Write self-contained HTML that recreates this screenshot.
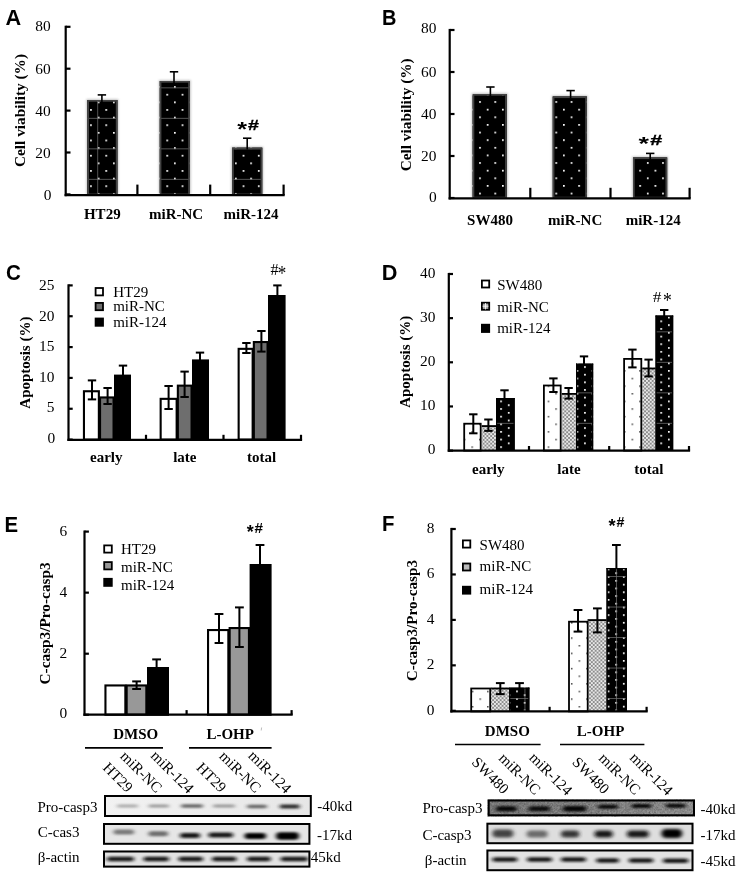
<!DOCTYPE html>
<html lang="en"><head><meta charset="utf-8"><title>Figure</title>
<style>html,body{margin:0;padding:0;background:#fff}body{width:739px;height:875px;overflow:hidden}svg text{fill:#000}</style></head>
<body>
<svg width="739" height="875" viewBox="0 0 739 875" style="display:block">
<defs>
<pattern id="pA" patternUnits="userSpaceOnUse" x="97.75" y="101.45" width="15.25" height="15.25">
<rect width="15.25" height="15.25" fill="#000"/>
<rect x="0" y="0" width="1.7" height="1.7" fill="#fff"/>
<rect x="7.625" y="7.625" width="1.7" height="1.7" fill="#fff"/>
</pattern>
<pattern id="lA" patternUnits="userSpaceOnUse" x="97.35" y="117.85" width="30.5" height="30.5">
<rect x="0" y="0" width="30.5" height="0.7" fill="#777"/>
</pattern>
<pattern id="pB" patternUnits="userSpaceOnUse" x="479.15" y="101.15" width="15.25" height="15.25">
<rect width="15.25" height="15.25" fill="#000"/>
<rect x="0" y="0" width="1.7" height="1.7" fill="#fff"/>
<rect x="7.625" y="7.625" width="1.7" height="1.7" fill="#fff"/>
</pattern>
<pattern id="pDw" patternUnits="userSpaceOnUse" x="631.55" y="377.75" width="15.25" height="15.25">
<rect width="15.25" height="15.25" fill="#fff"/>
<rect x="0" y="0" width="1.5" height="1.5" fill="#444"/>
<rect x="7.625" y="7.625" width="1.5" height="1.5" fill="#444"/>
</pattern>
<pattern id="pDb" patternUnits="userSpaceOnUse" x="660.35" y="320.45" width="15.25" height="7.625">
<rect width="15.25" height="7.625" fill="#000"/>
<rect x="0" y="0" width="1.7" height="1.7" fill="#fff"/>
<rect x="7.625" y="3.8125" width="1.7" height="1.7" fill="#fff"/>
</pattern>
<pattern id="lD" patternUnits="userSpaceOnUse" x="-0.35" y="331.35" width="30.5" height="30.5">
<rect x="0" y="0" width="30.5" height="0.7" fill="#777"/>
</pattern>
<pattern id="pFw" patternUnits="userSpaceOnUse" x="570.95" y="637.35" width="15.25" height="15.25">
<rect width="15.25" height="15.25" fill="#fff"/>
<rect x="0" y="0" width="1.5" height="1.5" fill="#444"/>
<rect x="7.625" y="7.625" width="1.5" height="1.5" fill="#444"/>
</pattern>
<pattern id="pFb" patternUnits="userSpaceOnUse" x="607.65" y="614.25" width="15.25" height="7.625">
<rect width="15.25" height="7.625" fill="#000"/>
<rect x="0" y="0" width="1.7" height="1.7" fill="#fff"/>
<rect x="7.625" y="3.8125" width="1.7" height="1.7" fill="#fff"/>
</pattern>
<pattern id="lF" patternUnits="userSpaceOnUse" x="615.95" y="637.05" width="30.5" height="30.5">
<rect x="0" y="0" width="0.7" height="30.5" fill="#777"/>
<rect x="0" y="0" width="30.5" height="0.7" fill="#777"/>
</pattern>
<pattern id="pG" patternUnits="userSpaceOnUse" width="3.8" height="3.8"><rect width="3.8" height="3.8" fill="#8c8c8c"/><rect x="0.1" y="0.1" width="1.7" height="1.7" fill="#fff"/><rect x="2.0" y="2.0" width="1.7" height="1.7" fill="#fff"/></pattern>
<filter id="b1" x="-20%" y="-100%" width="140%" height="300%"><feGaussianBlur stdDeviation="1.9 1.1"/></filter>
<filter id="b2" x="-20%" y="-100%" width="140%" height="300%"><feGaussianBlur stdDeviation="2.2 1.5"/></filter>
<filter id="sh" x="-20%" y="-20%" width="140%" height="140%"><feGaussianBlur stdDeviation="1.2"/></filter>
<linearGradient id="gE1" x1="0" x2="1"><stop offset="0" stop-color="#f2f2f2"/><stop offset="1" stop-color="#e6e6e6"/></linearGradient>
<linearGradient id="gF1" x1="0" x2="1"><stop offset="0" stop-color="#838383"/><stop offset="0.5" stop-color="#8c8c8c"/><stop offset="1" stop-color="#9c9c9c"/></linearGradient>
<filter id="nz" x="0" y="0" width="100%" height="100%"><feTurbulence type="fractalNoise" baseFrequency="0.55" numOctaves="2" seed="7"/><feColorMatrix type="matrix" values="0 0 0 0 0  0 0 0 0 0  0 0 0 0 0  0.9 0.9 0.9 0 -1.05"/></filter>
</defs>
<rect width="739" height="875" fill="#fff"/>
<text x="5.40" y="25.00" font-family='"Liberation Sans", sans-serif' font-size="21.7" font-weight="bold" text-anchor="start" >A</text>
<line x1="65.70" y1="25.70" x2="65.70" y2="196.20" stroke="#000" stroke-width="2.2" />
<line x1="65.70" y1="26.80" x2="70.50" y2="26.80" stroke="#000" stroke-width="2.2" />
<text x="50.60" y="31.40" font-family='"Liberation Serif", serif' font-size="15.4" font-weight="normal" text-anchor="end" >80</text>
<line x1="65.70" y1="68.70" x2="70.50" y2="68.70" stroke="#000" stroke-width="2.2" />
<text x="50.60" y="73.80" font-family='"Liberation Serif", serif' font-size="15.4" font-weight="normal" text-anchor="end" >60</text>
<line x1="65.70" y1="110.60" x2="70.50" y2="110.60" stroke="#000" stroke-width="2.2" />
<text x="50.60" y="115.70" font-family='"Liberation Serif", serif' font-size="15.4" font-weight="normal" text-anchor="end" >40</text>
<line x1="65.70" y1="152.50" x2="70.50" y2="152.50" stroke="#000" stroke-width="2.2" />
<text x="50.60" y="157.60" font-family='"Liberation Serif", serif' font-size="15.4" font-weight="normal" text-anchor="end" >20</text>
<line x1="65.70" y1="194.40" x2="70.50" y2="194.40" stroke="#000" stroke-width="2.2" />
<text x="51.40" y="200.30" font-family='"Liberation Serif", serif' font-size="15.4" font-weight="normal" text-anchor="end" >0</text>
<rect x="86.50" y="99.20" width="31.80" height="95.20" fill="#888" filter="url(#sh)" opacity="0.55"/>
<rect x="87.30" y="100.00" width="30.20" height="94.40" fill="url(#pA)" />
<rect x="87.30" y="100.00" width="30.20" height="94.40" fill="url(#lA)" />
<rect x="88.15" y="100.85" width="28.50" height="93.55" fill="none" stroke="#444" stroke-width="1.7" />
<line x1="101.90" y1="94.90" x2="101.90" y2="102.00" stroke="#000" stroke-width="1.6" />
<line x1="97.70" y1="94.90" x2="106.10" y2="94.90" stroke="#000" stroke-width="1.6" />
<rect x="158.90" y="80.20" width="31.80" height="114.20" fill="#888" filter="url(#sh)" opacity="0.55"/>
<rect x="159.70" y="81.00" width="30.20" height="113.40" fill="url(#pA)" />
<rect x="159.70" y="81.00" width="30.20" height="113.40" fill="url(#lA)" />
<rect x="160.55" y="81.85" width="28.50" height="112.55" fill="none" stroke="#444" stroke-width="1.7" />
<line x1="174.00" y1="71.80" x2="174.00" y2="83.00" stroke="#000" stroke-width="1.6" />
<line x1="169.80" y1="71.80" x2="178.20" y2="71.80" stroke="#000" stroke-width="1.6" />
<rect x="231.30" y="146.80" width="31.80" height="47.60" fill="#888" filter="url(#sh)" opacity="0.55"/>
<rect x="232.10" y="147.60" width="30.20" height="46.80" fill="url(#pA)" />
<rect x="232.10" y="147.60" width="30.20" height="46.80" fill="url(#lA)" />
<rect x="232.95" y="148.45" width="28.50" height="45.95" fill="none" stroke="#444" stroke-width="1.7" />
<line x1="247.20" y1="138.20" x2="247.20" y2="149.60" stroke="#000" stroke-width="1.6" />
<line x1="243.00" y1="138.20" x2="251.40" y2="138.20" stroke="#000" stroke-width="1.6" />
<line x1="97.70" y1="101.00" x2="97.70" y2="193.50" stroke="#777" stroke-width="0.7" />
<line x1="64.60" y1="195.10" x2="284.70" y2="195.10" stroke="#000" stroke-width="2.2" />
<line x1="137.40" y1="195.10" x2="137.40" y2="184.60" stroke="#000" stroke-width="2.2" />
<line x1="210.20" y1="195.10" x2="210.20" y2="184.60" stroke="#000" stroke-width="2.2" />
<line x1="283.60" y1="195.10" x2="283.60" y2="184.60" stroke="#000" stroke-width="2.2" />
<text x="102.30" y="218.60" font-family='"Liberation Serif", serif' font-size="15" font-weight="bold" text-anchor="middle" >HT29</text>
<text x="176.10" y="218.60" font-family='"Liberation Serif", serif' font-size="15" font-weight="bold" text-anchor="middle" >miR-NC</text>
<text x="251.00" y="218.60" font-family='"Liberation Serif", serif' font-size="15" font-weight="bold" text-anchor="middle" >miR-124</text>
<text transform="translate(24.60,110.50) rotate(-90)" font-family='"Liberation Serif", serif' font-size="15.3" font-weight="bold" text-anchor="middle">Cell viability (%)</text>
<text transform="translate(237.20,135.79) scale(1.240,1)" font-family='"Liberation Sans", sans-serif' font-size="20.27" font-weight="bold">*</text>
<text transform="translate(247.91,130.30) scale(1.314,1)" font-family='"Liberation Sans", sans-serif' font-size="14.93" font-weight="bold" stroke="#000" stroke-width="0.3">#</text>
<text transform="translate(381.9,25) scale(0.92,1)" font-family='"Liberation Sans", sans-serif' font-size="21.7" font-weight="bold">B</text>
<line x1="449.70" y1="28.90" x2="449.70" y2="199.40" stroke="#000" stroke-width="2.2" />
<line x1="449.70" y1="30.00" x2="454.50" y2="30.00" stroke="#000" stroke-width="2.2" />
<text x="436.40" y="33.30" font-family='"Liberation Serif", serif' font-size="15.4" font-weight="normal" text-anchor="end" >80</text>
<line x1="449.70" y1="72.00" x2="454.50" y2="72.00" stroke="#000" stroke-width="2.2" />
<text x="436.40" y="77.10" font-family='"Liberation Serif", serif' font-size="15.4" font-weight="normal" text-anchor="end" >60</text>
<line x1="449.70" y1="114.00" x2="454.50" y2="114.00" stroke="#000" stroke-width="2.2" />
<text x="436.40" y="119.10" font-family='"Liberation Serif", serif' font-size="15.4" font-weight="normal" text-anchor="end" >40</text>
<line x1="449.70" y1="156.00" x2="454.50" y2="156.00" stroke="#000" stroke-width="2.2" />
<text x="436.40" y="161.10" font-family='"Liberation Serif", serif' font-size="15.4" font-weight="normal" text-anchor="end" >20</text>
<line x1="449.70" y1="198.00" x2="454.50" y2="198.00" stroke="#000" stroke-width="2.2" />
<text x="436.80" y="202.00" font-family='"Liberation Serif", serif' font-size="15.4" font-weight="normal" text-anchor="end" >0</text>
<rect x="471.80" y="93.20" width="35.80" height="104.40" fill="#888" filter="url(#sh)" opacity="0.55"/>
<rect x="472.60" y="94.00" width="34.20" height="103.60" fill="url(#pB)" />
<rect x="473.45" y="94.85" width="32.50" height="102.75" fill="none" stroke="#444" stroke-width="1.7" />
<line x1="490.40" y1="87.00" x2="490.40" y2="96.00" stroke="#000" stroke-width="1.6" />
<line x1="486.20" y1="87.00" x2="494.60" y2="87.00" stroke="#000" stroke-width="1.6" />
<rect x="551.90" y="95.60" width="35.80" height="102.00" fill="#888" filter="url(#sh)" opacity="0.55"/>
<rect x="552.70" y="96.40" width="34.20" height="101.20" fill="url(#pB)" />
<rect x="553.55" y="97.25" width="32.50" height="100.35" fill="none" stroke="#444" stroke-width="1.7" />
<line x1="570.60" y1="90.60" x2="570.60" y2="98.40" stroke="#000" stroke-width="1.6" />
<line x1="566.40" y1="90.60" x2="574.80" y2="90.60" stroke="#000" stroke-width="1.6" />
<rect x="632.20" y="156.60" width="35.80" height="41.00" fill="#888" filter="url(#sh)" opacity="0.55"/>
<rect x="633.00" y="157.40" width="34.20" height="40.20" fill="url(#pB)" />
<rect x="633.85" y="158.25" width="32.50" height="39.35" fill="none" stroke="#444" stroke-width="1.7" />
<line x1="650.20" y1="153.40" x2="650.20" y2="159.40" stroke="#000" stroke-width="1.6" />
<line x1="646.00" y1="153.40" x2="654.40" y2="153.40" stroke="#000" stroke-width="1.6" />
<line x1="448.60" y1="198.30" x2="690.70" y2="198.30" stroke="#000" stroke-width="2.2" />
<line x1="530.30" y1="198.30" x2="530.30" y2="187.80" stroke="#000" stroke-width="2.2" />
<line x1="610.50" y1="198.30" x2="610.50" y2="187.80" stroke="#000" stroke-width="2.2" />
<line x1="689.60" y1="198.30" x2="689.60" y2="187.80" stroke="#000" stroke-width="2.2" />
<text x="490.00" y="225.20" font-family='"Liberation Serif", serif' font-size="15" font-weight="bold" text-anchor="middle" >SW480</text>
<text x="575.20" y="225.20" font-family='"Liberation Serif", serif' font-size="15" font-weight="bold" text-anchor="middle" >miR-NC</text>
<text x="653.20" y="225.20" font-family='"Liberation Serif", serif' font-size="15" font-weight="bold" text-anchor="middle" >miR-124</text>
<text transform="translate(411.10,114.80) rotate(-90)" font-family='"Liberation Serif", serif' font-size="15.3" font-weight="bold" text-anchor="middle">Cell viability (%)</text>
<text transform="translate(638.50,150.44) scale(1.403,1)" font-family='"Liberation Sans", sans-serif' font-size="19.19" font-weight="bold">*</text>
<text transform="translate(650.27,145.30) scale(1.516,1)" font-family='"Liberation Sans", sans-serif' font-size="14.20" font-weight="bold" stroke="#000" stroke-width="0.3">#</text>
<text transform="translate(5.9,280) scale(0.95,1)" font-family='"Liberation Sans", sans-serif' font-size="21.7" font-weight="bold">C</text>
<line x1="68.50" y1="284.30" x2="68.50" y2="440.90" stroke="#000" stroke-width="2.2" />
<line x1="68.50" y1="285.40" x2="72.70" y2="285.40" stroke="#000" stroke-width="2.2" />
<text x="54.40" y="290.00" font-family='"Liberation Serif", serif' font-size="15.4" font-weight="normal" text-anchor="end" >25</text>
<line x1="68.50" y1="316.24" x2="72.70" y2="316.24" stroke="#000" stroke-width="2.2" />
<text x="54.40" y="320.54" font-family='"Liberation Serif", serif' font-size="15.4" font-weight="normal" text-anchor="end" >20</text>
<line x1="68.50" y1="347.08" x2="72.70" y2="347.08" stroke="#000" stroke-width="2.2" />
<text x="54.40" y="351.08" font-family='"Liberation Serif", serif' font-size="15.4" font-weight="normal" text-anchor="end" >15</text>
<line x1="68.50" y1="377.92" x2="72.70" y2="377.92" stroke="#000" stroke-width="2.2" />
<text x="54.40" y="381.62" font-family='"Liberation Serif", serif' font-size="15.4" font-weight="normal" text-anchor="end" >10</text>
<line x1="68.50" y1="408.76" x2="72.70" y2="408.76" stroke="#000" stroke-width="2.2" />
<text x="54.40" y="412.16" font-family='"Liberation Serif", serif' font-size="15.4" font-weight="normal" text-anchor="end" >5</text>
<line x1="68.50" y1="439.60" x2="72.70" y2="439.60" stroke="#000" stroke-width="2.2" />
<text x="55.10" y="442.70" font-family='"Liberation Serif", serif' font-size="15.4" font-weight="normal" text-anchor="end" >0</text>
<rect x="83.95" y="391.25" width="14.90" height="48.35" fill="#fff" stroke="#000" stroke-width="2.1" />
<rect x="100.05" y="397.45" width="13.50" height="42.15" fill="#6e6e6e" stroke="#000" stroke-width="2.1" />
<rect x="115.05" y="375.65" width="14.90" height="63.95" fill="#000" stroke="#000" stroke-width="2.1" />
<line x1="92.00" y1="380.40" x2="92.00" y2="399.40" stroke="#000" stroke-width="2.0" />
<line x1="87.80" y1="380.40" x2="96.20" y2="380.40" stroke="#000" stroke-width="2.0" />
<line x1="87.80" y1="399.40" x2="96.20" y2="399.40" stroke="#000" stroke-width="2.0" />
<line x1="107.60" y1="388.00" x2="107.60" y2="404.00" stroke="#000" stroke-width="2.0" />
<line x1="103.40" y1="388.00" x2="111.80" y2="388.00" stroke="#000" stroke-width="2.0" />
<line x1="103.40" y1="404.00" x2="111.80" y2="404.00" stroke="#000" stroke-width="2.0" />
<line x1="123.00" y1="365.60" x2="123.00" y2="375.60" stroke="#000" stroke-width="2.0" />
<line x1="118.80" y1="365.60" x2="127.20" y2="365.60" stroke="#000" stroke-width="2.0" />
<rect x="160.65" y="398.85" width="16.00" height="40.75" fill="#fff" stroke="#000" stroke-width="2.1" />
<rect x="177.85" y="385.65" width="13.70" height="53.95" fill="#6e6e6e" stroke="#000" stroke-width="2.1" />
<rect x="193.05" y="360.45" width="14.90" height="79.15" fill="#000" stroke="#000" stroke-width="2.1" />
<line x1="168.60" y1="386.00" x2="168.60" y2="409.00" stroke="#000" stroke-width="2.0" />
<line x1="164.40" y1="386.00" x2="172.80" y2="386.00" stroke="#000" stroke-width="2.0" />
<line x1="164.40" y1="409.00" x2="172.80" y2="409.00" stroke="#000" stroke-width="2.0" />
<line x1="184.60" y1="371.60" x2="184.60" y2="397.00" stroke="#000" stroke-width="2.0" />
<line x1="180.40" y1="371.60" x2="188.80" y2="371.60" stroke="#000" stroke-width="2.0" />
<line x1="180.40" y1="397.00" x2="188.80" y2="397.00" stroke="#000" stroke-width="2.0" />
<line x1="200.00" y1="352.60" x2="200.00" y2="360.40" stroke="#000" stroke-width="2.0" />
<line x1="195.80" y1="352.60" x2="204.20" y2="352.60" stroke="#000" stroke-width="2.0" />
<rect x="238.65" y="348.85" width="14.00" height="90.75" fill="#fff" stroke="#000" stroke-width="2.1" />
<rect x="253.85" y="342.05" width="13.70" height="97.55" fill="#6e6e6e" stroke="#000" stroke-width="2.1" />
<rect x="269.05" y="296.05" width="15.50" height="143.55" fill="#000" stroke="#000" stroke-width="2.1" />
<line x1="246.40" y1="343.00" x2="246.40" y2="353.00" stroke="#000" stroke-width="2.0" />
<line x1="242.20" y1="343.00" x2="250.60" y2="343.00" stroke="#000" stroke-width="2.0" />
<line x1="242.20" y1="353.00" x2="250.60" y2="353.00" stroke="#000" stroke-width="2.0" />
<line x1="261.40" y1="331.00" x2="261.40" y2="351.60" stroke="#000" stroke-width="2.0" />
<line x1="257.20" y1="331.00" x2="265.60" y2="331.00" stroke="#000" stroke-width="2.0" />
<line x1="257.20" y1="351.60" x2="265.60" y2="351.60" stroke="#000" stroke-width="2.0" />
<line x1="277.40" y1="285.40" x2="277.40" y2="296.00" stroke="#000" stroke-width="2.0" />
<line x1="273.20" y1="285.40" x2="281.60" y2="285.40" stroke="#000" stroke-width="2.0" />
<line x1="67.40" y1="439.80" x2="302.10" y2="439.80" stroke="#000" stroke-width="2.2" />
<line x1="146.00" y1="439.80" x2="146.00" y2="434.80" stroke="#000" stroke-width="2.2" />
<line x1="223.50" y1="439.80" x2="223.50" y2="434.80" stroke="#000" stroke-width="2.2" />
<line x1="301.00" y1="439.80" x2="301.00" y2="434.80" stroke="#000" stroke-width="2.2" />
<text x="106.30" y="461.80" font-family='"Liberation Serif", serif' font-size="15" font-weight="bold" text-anchor="middle" >early</text>
<text x="184.80" y="461.80" font-family='"Liberation Serif", serif' font-size="15" font-weight="bold" text-anchor="middle" >late</text>
<text x="261.60" y="461.80" font-family='"Liberation Serif", serif' font-size="15" font-weight="bold" text-anchor="middle" >total</text>
<text transform="translate(30.00,362.60) rotate(-90)" font-family='"Liberation Serif", serif' font-size="15" font-weight="bold" text-anchor="middle">Apoptosis (%)</text>
<text transform="translate(270.58,274.74) scale(1.011,1)" font-family='"Liberation Serif", serif' font-size="15.91" font-weight="normal">#</text>
<text transform="translate(277.85,280.10) scale(0.806,1)" font-family='"Liberation Serif", serif' font-size="21.08" font-weight="normal">*</text>
<rect x="95.60" y="288.00" width="7.40" height="7.40" fill="#fff" stroke="#000" stroke-width="1.8" />
<rect x="95.60" y="302.90" width="7.40" height="7.30" fill="#6e6e6e" stroke="#000" stroke-width="1.8" />
<rect x="95.60" y="318.50" width="7.40" height="7.30" fill="#000" stroke="#000" stroke-width="1.8" />
<text x="113.20" y="297.20" font-family='"Liberation Serif", serif' font-size="15" font-weight="normal" text-anchor="start" >HT29</text>
<text x="113.20" y="311.30" font-family='"Liberation Serif", serif' font-size="15" font-weight="normal" text-anchor="start" >miR-NC</text>
<text x="113.20" y="326.50" font-family='"Liberation Serif", serif' font-size="15" font-weight="normal" text-anchor="start" >miR-124</text>
<text x="381.80" y="280.40" font-family='"Liberation Sans", sans-serif' font-size="21.7" font-weight="bold" text-anchor="start" >D</text>
<line x1="448.80" y1="272.90" x2="448.80" y2="451.70" stroke="#000" stroke-width="2.2" />
<line x1="448.80" y1="274.00" x2="453.00" y2="274.00" stroke="#000" stroke-width="2.2" />
<text x="435.40" y="277.60" font-family='"Liberation Serif", serif' font-size="15.4" font-weight="normal" text-anchor="end" >40</text>
<line x1="448.80" y1="318.15" x2="453.00" y2="318.15" stroke="#000" stroke-width="2.2" />
<text x="435.40" y="321.75" font-family='"Liberation Serif", serif' font-size="15.4" font-weight="normal" text-anchor="end" >30</text>
<line x1="448.80" y1="362.30" x2="453.00" y2="362.30" stroke="#000" stroke-width="2.2" />
<text x="435.40" y="365.90" font-family='"Liberation Serif", serif' font-size="15.4" font-weight="normal" text-anchor="end" >20</text>
<line x1="448.80" y1="406.45" x2="453.00" y2="406.45" stroke="#000" stroke-width="2.2" />
<text x="435.40" y="410.05" font-family='"Liberation Serif", serif' font-size="15.4" font-weight="normal" text-anchor="end" >10</text>
<line x1="448.80" y1="450.60" x2="453.00" y2="450.60" stroke="#000" stroke-width="2.2" />
<text x="435.40" y="454.20" font-family='"Liberation Serif", serif' font-size="15.4" font-weight="normal" text-anchor="end" >0</text>
<rect x="481.40" y="425.20" width="14.60" height="25.40" fill="url(#pG)" />
<line x1="481.40" y1="426.10" x2="496.00" y2="426.10" stroke="#000" stroke-width="1.8" />
<rect x="463.30" y="422.80" width="18.30" height="27.80" fill="url(#pDw)" />
<rect x="464.20" y="423.70" width="16.50" height="26.90" fill="none" stroke="#000" stroke-width="1.8" />
<rect x="496.00" y="398.00" width="18.70" height="52.60" fill="url(#pDb)" />
<rect x="496.00" y="398.00" width="18.70" height="52.60" fill="url(#lD)" />
<line x1="496.60" y1="398.00" x2="496.60" y2="450.60" stroke="#000" stroke-width="1.2" />
<line x1="514.10" y1="398.00" x2="514.10" y2="450.60" stroke="#000" stroke-width="1.2" />
<line x1="496.00" y1="398.60" x2="514.70" y2="398.60" stroke="#000" stroke-width="1.2" />
<line x1="473.30" y1="414.30" x2="473.30" y2="433.30" stroke="#000" stroke-width="2.0" />
<line x1="469.10" y1="414.30" x2="477.50" y2="414.30" stroke="#000" stroke-width="2.0" />
<line x1="469.10" y1="433.30" x2="477.50" y2="433.30" stroke="#000" stroke-width="2.0" />
<line x1="488.40" y1="419.50" x2="488.40" y2="430.90" stroke="#000" stroke-width="2.0" />
<line x1="484.20" y1="419.50" x2="492.60" y2="419.50" stroke="#000" stroke-width="2.0" />
<line x1="484.20" y1="430.90" x2="492.60" y2="430.90" stroke="#000" stroke-width="2.0" />
<line x1="504.50" y1="390.30" x2="504.50" y2="399.00" stroke="#000" stroke-width="2.0" />
<line x1="500.30" y1="390.30" x2="508.70" y2="390.30" stroke="#000" stroke-width="2.0" />
<rect x="561.40" y="393.00" width="14.60" height="57.60" fill="url(#pG)" />
<line x1="561.40" y1="393.90" x2="576.00" y2="393.90" stroke="#000" stroke-width="1.8" />
<rect x="543.00" y="384.60" width="18.60" height="66.00" fill="url(#pDw)" />
<rect x="543.90" y="385.50" width="16.80" height="65.10" fill="none" stroke="#000" stroke-width="1.8" />
<rect x="576.00" y="363.60" width="17.20" height="87.00" fill="url(#pDb)" />
<rect x="576.00" y="363.60" width="17.20" height="87.00" fill="url(#lD)" />
<line x1="576.60" y1="363.60" x2="576.60" y2="450.60" stroke="#000" stroke-width="1.2" />
<line x1="592.60" y1="363.60" x2="592.60" y2="450.60" stroke="#000" stroke-width="1.2" />
<line x1="576.00" y1="364.20" x2="593.20" y2="364.20" stroke="#000" stroke-width="1.2" />
<line x1="553.40" y1="378.40" x2="553.40" y2="392.00" stroke="#000" stroke-width="2.0" />
<line x1="549.20" y1="378.40" x2="557.60" y2="378.40" stroke="#000" stroke-width="2.0" />
<line x1="549.20" y1="392.00" x2="557.60" y2="392.00" stroke="#000" stroke-width="2.0" />
<line x1="568.60" y1="388.00" x2="568.60" y2="398.60" stroke="#000" stroke-width="2.0" />
<line x1="564.40" y1="388.00" x2="572.80" y2="388.00" stroke="#000" stroke-width="2.0" />
<line x1="564.40" y1="398.60" x2="572.80" y2="398.60" stroke="#000" stroke-width="2.0" />
<line x1="584.00" y1="356.40" x2="584.00" y2="364.60" stroke="#000" stroke-width="2.0" />
<line x1="579.80" y1="356.40" x2="588.20" y2="356.40" stroke="#000" stroke-width="2.0" />
<rect x="642.00" y="367.60" width="13.60" height="83.00" fill="url(#pG)" />
<line x1="642.00" y1="368.50" x2="655.60" y2="368.50" stroke="#000" stroke-width="1.8" />
<rect x="623.20" y="358.00" width="19.00" height="92.60" fill="url(#pDw)" />
<rect x="624.10" y="358.90" width="17.20" height="91.70" fill="none" stroke="#000" stroke-width="1.8" />
<rect x="655.50" y="315.50" width="17.70" height="135.10" fill="url(#pDb)" />
<rect x="655.50" y="315.50" width="17.70" height="135.10" fill="url(#lD)" />
<line x1="656.10" y1="315.50" x2="656.10" y2="450.60" stroke="#000" stroke-width="1.2" />
<line x1="672.60" y1="315.50" x2="672.60" y2="450.60" stroke="#000" stroke-width="1.2" />
<line x1="655.50" y1="316.10" x2="673.20" y2="316.10" stroke="#000" stroke-width="1.2" />
<line x1="632.40" y1="349.60" x2="632.40" y2="367.40" stroke="#000" stroke-width="2.0" />
<line x1="628.20" y1="349.60" x2="636.60" y2="349.60" stroke="#000" stroke-width="2.0" />
<line x1="628.20" y1="367.40" x2="636.60" y2="367.40" stroke="#000" stroke-width="2.0" />
<line x1="648.60" y1="359.60" x2="648.60" y2="376.40" stroke="#000" stroke-width="2.0" />
<line x1="644.40" y1="359.60" x2="652.80" y2="359.60" stroke="#000" stroke-width="2.0" />
<line x1="644.40" y1="376.40" x2="652.80" y2="376.40" stroke="#000" stroke-width="2.0" />
<line x1="664.20" y1="310.00" x2="664.20" y2="316.50" stroke="#000" stroke-width="2.0" />
<line x1="660.00" y1="310.00" x2="668.40" y2="310.00" stroke="#000" stroke-width="2.0" />
<line x1="447.70" y1="450.60" x2="690.10" y2="450.60" stroke="#000" stroke-width="2.2" />
<line x1="529.00" y1="450.60" x2="529.00" y2="446.00" stroke="#000" stroke-width="2.2" />
<line x1="609.20" y1="450.60" x2="609.20" y2="446.00" stroke="#000" stroke-width="2.2" />
<line x1="689.00" y1="450.60" x2="689.00" y2="446.00" stroke="#000" stroke-width="2.2" />
<text x="488.30" y="473.80" font-family='"Liberation Serif", serif' font-size="15" font-weight="bold" text-anchor="middle" >early</text>
<text x="569.00" y="473.80" font-family='"Liberation Serif", serif' font-size="15" font-weight="bold" text-anchor="middle" >late</text>
<text x="648.80" y="473.80" font-family='"Liberation Serif", serif' font-size="15" font-weight="bold" text-anchor="middle" >total</text>
<text transform="translate(409.80,361.80) rotate(-90)" font-family='"Liberation Serif", serif' font-size="15" font-weight="bold" text-anchor="middle">Apoptosis (%)</text>
<text transform="translate(652.65,301.85) scale(1.171,1)" font-family='"Liberation Serif", serif' font-size="14.85" font-weight="normal">#</text>
<text transform="translate(663.12,307.00) scale(0.875,1)" font-family='"Liberation Serif", serif' font-size="20.00" font-weight="normal">*</text>
<rect x="481.90" y="280.50" width="7.30" height="7.00" fill="#fff" stroke="#000" stroke-width="1.8" />
<rect x="481.90" y="302.70" width="7.30" height="7.10" fill="#aaa" stroke="#000" stroke-width="1.8" />
<line x1="485.50" y1="303.00" x2="485.50" y2="309.50" stroke="#fff" stroke-width="0.8" />
<line x1="482.50" y1="306.20" x2="488.50" y2="306.20" stroke="#fff" stroke-width="0.8" />
<rect x="481.00" y="323.80" width="9.10" height="9.10" fill="#000" />
<text x="497.20" y="289.70" font-family='"Liberation Serif", serif' font-size="15" font-weight="normal" text-anchor="start" >SW480</text>
<text x="497.20" y="311.60" font-family='"Liberation Serif", serif' font-size="15" font-weight="normal" text-anchor="start" >miR-NC</text>
<text x="497.20" y="332.90" font-family='"Liberation Serif", serif' font-size="15" font-weight="normal" text-anchor="start" >miR-124</text>
<text transform="translate(4.5,531.6) scale(0.94,1)" font-family='"Liberation Sans", sans-serif' font-size="21.7" font-weight="bold">E</text>
<line x1="84.50" y1="530.50" x2="84.50" y2="715.90" stroke="#000" stroke-width="2.2" />
<line x1="84.50" y1="531.60" x2="88.90" y2="531.60" stroke="#000" stroke-width="2.2" />
<text x="67.20" y="535.70" font-family='"Liberation Serif", serif' font-size="15.4" font-weight="normal" text-anchor="end" >6</text>
<line x1="84.50" y1="592.65" x2="88.90" y2="592.65" stroke="#000" stroke-width="2.2" />
<text x="67.20" y="596.75" font-family='"Liberation Serif", serif' font-size="15.4" font-weight="normal" text-anchor="end" >4</text>
<line x1="84.50" y1="653.70" x2="88.90" y2="653.70" stroke="#000" stroke-width="2.2" />
<text x="67.20" y="657.80" font-family='"Liberation Serif", serif' font-size="15.4" font-weight="normal" text-anchor="end" >2</text>
<line x1="84.50" y1="714.75" x2="88.90" y2="714.75" stroke="#000" stroke-width="2.2" />
<text x="67.20" y="718.15" font-family='"Liberation Serif", serif' font-size="15.4" font-weight="normal" text-anchor="end" >0</text>
<rect x="105.45" y="685.45" width="19.90" height="29.25" fill="#fff" stroke="#000" stroke-width="2.1" />
<rect x="126.65" y="685.45" width="19.70" height="29.25" fill="#989898" stroke="#000" stroke-width="2.1" />
<rect x="148.05" y="668.05" width="19.90" height="46.65" fill="#000" stroke="#000" stroke-width="2.1" />
<line x1="136.60" y1="681.40" x2="136.60" y2="689.00" stroke="#000" stroke-width="2.0" />
<line x1="132.20" y1="681.40" x2="141.00" y2="681.40" stroke="#000" stroke-width="2.0" />
<line x1="132.20" y1="689.00" x2="141.00" y2="689.00" stroke="#000" stroke-width="2.0" />
<line x1="156.60" y1="659.40" x2="156.60" y2="668.00" stroke="#000" stroke-width="2.0" />
<line x1="152.20" y1="659.40" x2="161.00" y2="659.40" stroke="#000" stroke-width="2.0" />
<rect x="208.05" y="630.05" width="20.30" height="84.65" fill="#fff" stroke="#000" stroke-width="2.1" />
<rect x="229.65" y="628.05" width="19.30" height="86.65" fill="#989898" stroke="#000" stroke-width="2.1" />
<rect x="250.65" y="565.05" width="19.90" height="149.65" fill="#000" stroke="#000" stroke-width="2.1" />
<line x1="219.00" y1="614.00" x2="219.00" y2="643.00" stroke="#000" stroke-width="2.0" />
<line x1="214.60" y1="614.00" x2="223.40" y2="614.00" stroke="#000" stroke-width="2.0" />
<line x1="214.60" y1="643.00" x2="223.40" y2="643.00" stroke="#000" stroke-width="2.0" />
<line x1="239.40" y1="607.40" x2="239.40" y2="647.00" stroke="#000" stroke-width="2.0" />
<line x1="235.00" y1="607.40" x2="243.80" y2="607.40" stroke="#000" stroke-width="2.0" />
<line x1="235.00" y1="647.00" x2="243.80" y2="647.00" stroke="#000" stroke-width="2.0" />
<line x1="260.00" y1="545.00" x2="260.00" y2="565.00" stroke="#000" stroke-width="2.0" />
<line x1="255.60" y1="545.00" x2="264.40" y2="545.00" stroke="#000" stroke-width="2.0" />
<line x1="83.40" y1="714.70" x2="292.70" y2="714.70" stroke="#000" stroke-width="2.2" />
<line x1="186.60" y1="714.70" x2="186.60" y2="710.10" stroke="#000" stroke-width="2.2" />
<line x1="291.60" y1="714.70" x2="291.60" y2="710.10" stroke="#000" stroke-width="2.2" />
<text transform="translate(49.80,623.40) rotate(-90)" font-family='"Liberation Serif", serif' font-size="15.3" font-weight="bold" text-anchor="middle">C-casp3/Pro-casp3</text>
<text transform="translate(246.80,537.78) scale(0.977,1)" font-family='"Liberation Sans", sans-serif' font-size="18.38" font-weight="bold">*</text>
<text transform="translate(254.60,533.10) scale(1.048,1)" font-family='"Liberation Sans", sans-serif' font-size="14.49" font-weight="bold">#</text>
<rect x="104.20" y="545.40" width="7.60" height="7.20" fill="#fff" stroke="#000" stroke-width="1.8" />
<rect x="104.20" y="562.10" width="7.60" height="7.30" fill="#989898" stroke="#000" stroke-width="1.8" />
<rect x="104.20" y="578.80" width="7.60" height="7.10" fill="#000" stroke="#000" stroke-width="1.8" />
<text x="121.00" y="553.90" font-family='"Liberation Serif", serif' font-size="15" font-weight="normal" text-anchor="start" >HT29</text>
<text x="121.00" y="571.50" font-family='"Liberation Serif", serif' font-size="15" font-weight="normal" text-anchor="start" >miR-NC</text>
<text x="121.00" y="590.40" font-family='"Liberation Serif", serif' font-size="15" font-weight="normal" text-anchor="start" >miR-124</text>
<text x="113.20" y="738.90" font-family='"Liberation Serif", serif' font-size="15" font-weight="bold" text-anchor="start" >DMSO</text>
<text x="206.40" y="738.90" font-family='"Liberation Serif", serif' font-size="15" font-weight="bold" text-anchor="start" >L-OHP</text>
<line x1="85.00" y1="747.80" x2="163.00" y2="747.80" stroke="#000" stroke-width="1.7" />
<line x1="189.00" y1="747.80" x2="271.60" y2="747.80" stroke="#000" stroke-width="1.7" />
<line x1="261.60" y1="727.50" x2="261.20" y2="730.50" stroke="#aaa" stroke-width="0.8" />
<text transform="translate(102.00,768.50) rotate(45)" font-family='"Liberation Serif", serif' font-size="15">HT29</text>
<text transform="translate(119.50,757.00) rotate(45)" font-family='"Liberation Serif", serif' font-size="15">miR-NC</text>
<text transform="translate(150.00,756.50) rotate(45)" font-family='"Liberation Serif", serif' font-size="15">miR-124</text>
<text transform="translate(195.50,768.50) rotate(45)" font-family='"Liberation Serif", serif' font-size="15">HT29</text>
<text transform="translate(218.50,757.00) rotate(45)" font-family='"Liberation Serif", serif' font-size="15">miR-NC</text>
<text transform="translate(247.50,756.50) rotate(45)" font-family='"Liberation Serif", serif' font-size="15">miR-124</text>
<text x="37.40" y="812.00" font-family='"Liberation Serif", serif' font-size="15" font-weight="normal" text-anchor="start" >Pro-casp3</text>
<text x="37.80" y="837.00" font-family='"Liberation Serif", serif' font-size="15" font-weight="normal" text-anchor="start" >C-cas3</text>
<text x="37.80" y="862.40" font-family='"Liberation Serif", serif' font-size="15" font-weight="normal" text-anchor="start" >β-actin</text>
<text x="317.20" y="811.00" font-family='"Liberation Serif", serif' font-size="15" font-weight="normal" text-anchor="start" >-40kd</text>
<text x="317.00" y="840.00" font-family='"Liberation Serif", serif' font-size="15" font-weight="normal" text-anchor="start" >-17kd</text>
<text x="310.80" y="862.40" font-family='"Liberation Serif", serif' font-size="15" font-weight="normal" text-anchor="start" >45kd</text>
<clipPath id="cE1"><rect x="104" y="795" width="207.8" height="22"/></clipPath>
<rect x="104.00" y="795.00" width="207.80" height="22.00" fill="url(#gE1)" />
<g clip-path="url(#cE1)">
<rect x="117.00" y="804.50" width="21.00" height="3.00" rx="1.50" fill="#555" opacity="0.45" filter="url(#b1)"/>
<rect x="148.50" y="804.50" width="20.50" height="3.00" rx="1.50" fill="#555" opacity="0.55" filter="url(#b1)"/>
<rect x="181.00" y="804.25" width="22.00" height="3.50" rx="1.75" fill="#444" opacity="0.8" filter="url(#b1)"/>
<rect x="213.00" y="804.50" width="22.00" height="3.00" rx="1.50" fill="#555" opacity="0.55" filter="url(#b1)"/>
<rect x="247.00" y="804.75" width="20.00" height="3.50" rx="1.75" fill="#444" opacity="0.8" filter="url(#b1)"/>
<rect x="279.70" y="804.50" width="20.00" height="4.00" rx="2.00" fill="#222" opacity="0.95" filter="url(#b1)"/>
</g>
<rect x="105.00" y="796.00" width="205.80" height="20.00" fill="none" stroke="#000" stroke-width="2.0" />
<clipPath id="cE2"><rect x="103" y="823" width="207.39999999999998" height="21.799999999999955"/></clipPath>
<rect x="103.00" y="823.00" width="207.40" height="21.80" fill="#e6e6e6" />
<g clip-path="url(#cE2)">
<rect x="113.50" y="829.50" width="20.50" height="5.00" rx="2.50" fill="#555" opacity="0.75" filter="url(#b1)"/>
<rect x="148.50" y="831.20" width="19.50" height="5.00" rx="2.50" fill="#444" opacity="0.75" filter="url(#b1)"/>
<rect x="180.00" y="833.00" width="20.00" height="5.00" rx="2.50" fill="#111" opacity="0.95" filter="url(#b1)"/>
<rect x="208.50" y="832.50" width="24.50" height="5.00" rx="2.50" fill="#111" opacity="0.95" filter="url(#b1)"/>
<rect x="244.50" y="833.00" width="21.50" height="6.00" rx="3.00" fill="#000" opacity="1" filter="url(#b1)"/>
<rect x="276.00" y="832.25" width="23.00" height="7.50" rx="3.75" fill="#000" opacity="1" filter="url(#b1)"/>
</g>
<rect x="104.00" y="824.00" width="205.40" height="19.80" fill="none" stroke="#000" stroke-width="2.0" />
<clipPath id="cE3"><rect x="103" y="850.5" width="207.39999999999998" height="17.100000000000023"/></clipPath>
<rect x="103.00" y="850.50" width="207.40" height="17.10" fill="#e2e2e2" />
<g clip-path="url(#cE3)">
<rect x="107.00" y="856.75" width="27.00" height="4.50" rx="2.25" fill="#111" opacity="0.95" filter="url(#b1)"/>
<rect x="143.50" y="856.75" width="25.50" height="4.50" rx="2.25" fill="#111" opacity="0.95" filter="url(#b1)"/>
<rect x="178.50" y="856.75" width="24.50" height="4.50" rx="2.25" fill="#111" opacity="0.95" filter="url(#b1)"/>
<rect x="212.00" y="856.75" width="24.50" height="4.50" rx="2.25" fill="#111" opacity="0.95" filter="url(#b1)"/>
<rect x="247.00" y="856.75" width="23.70" height="4.50" rx="2.25" fill="#111" opacity="0.95" filter="url(#b1)"/>
<rect x="280.60" y="856.75" width="27.40" height="4.50" rx="2.25" fill="#111" opacity="0.95" filter="url(#b1)"/>
</g>
<rect x="104.00" y="851.50" width="205.40" height="15.10" fill="none" stroke="#000" stroke-width="2.0" />
<text transform="translate(381.9,531) scale(0.94,1)" font-family='"Liberation Sans", sans-serif' font-size="21.7" font-weight="bold">F</text>
<line x1="451.40" y1="527.90" x2="451.40" y2="712.50" stroke="#000" stroke-width="2.2" />
<line x1="451.40" y1="529.00" x2="455.80" y2="529.00" stroke="#000" stroke-width="2.2" />
<text x="434.40" y="532.70" font-family='"Liberation Serif", serif' font-size="15.4" font-weight="normal" text-anchor="end" >8</text>
<line x1="451.40" y1="574.45" x2="455.80" y2="574.45" stroke="#000" stroke-width="2.2" />
<text x="434.40" y="578.15" font-family='"Liberation Serif", serif' font-size="15.4" font-weight="normal" text-anchor="end" >6</text>
<line x1="451.40" y1="619.90" x2="455.80" y2="619.90" stroke="#000" stroke-width="2.2" />
<text x="434.40" y="623.60" font-family='"Liberation Serif", serif' font-size="15.4" font-weight="normal" text-anchor="end" >4</text>
<line x1="451.40" y1="665.35" x2="455.80" y2="665.35" stroke="#000" stroke-width="2.2" />
<text x="434.40" y="669.05" font-family='"Liberation Serif", serif' font-size="15.4" font-weight="normal" text-anchor="end" >2</text>
<line x1="451.40" y1="710.80" x2="455.80" y2="710.80" stroke="#000" stroke-width="2.2" />
<text x="434.40" y="714.50" font-family='"Liberation Serif", serif' font-size="15.4" font-weight="normal" text-anchor="end" >0</text>
<rect x="490.90" y="687.60" width="18.20" height="23.80" fill="url(#pG)" />
<line x1="490.90" y1="688.50" x2="509.10" y2="688.50" stroke="#000" stroke-width="1.8" />
<rect x="470.30" y="687.60" width="20.80" height="23.80" fill="url(#pFw)" />
<rect x="471.20" y="688.50" width="19.00" height="22.90" fill="none" stroke="#000" stroke-width="1.8" />
<rect x="509.10" y="687.60" width="20.30" height="23.80" fill="url(#pFb)" />
<rect x="509.10" y="687.60" width="20.30" height="23.80" fill="url(#lF)" />
<line x1="509.70" y1="687.60" x2="509.70" y2="711.40" stroke="#000" stroke-width="1.2" />
<line x1="528.80" y1="687.60" x2="528.80" y2="711.40" stroke="#000" stroke-width="1.2" />
<line x1="509.10" y1="688.20" x2="529.40" y2="688.20" stroke="#000" stroke-width="1.2" />
<line x1="500.30" y1="683.10" x2="500.30" y2="694.10" stroke="#000" stroke-width="2.0" />
<line x1="495.90" y1="683.10" x2="504.70" y2="683.10" stroke="#000" stroke-width="2.0" />
<line x1="495.90" y1="694.10" x2="504.70" y2="694.10" stroke="#000" stroke-width="2.0" />
<line x1="519.50" y1="683.10" x2="519.50" y2="688.60" stroke="#000" stroke-width="2.0" />
<line x1="515.10" y1="683.10" x2="523.90" y2="683.10" stroke="#000" stroke-width="2.0" />
<rect x="587.60" y="619.20" width="18.90" height="92.20" fill="url(#pG)" />
<line x1="587.60" y1="620.10" x2="606.50" y2="620.10" stroke="#000" stroke-width="1.8" />
<rect x="568.10" y="620.80" width="20.50" height="90.60" fill="url(#pFw)" />
<rect x="569.00" y="621.70" width="18.70" height="89.70" fill="none" stroke="#000" stroke-width="1.8" />
<rect x="606.50" y="568.00" width="20.50" height="143.40" fill="url(#pFb)" />
<rect x="606.50" y="568.00" width="20.50" height="143.40" fill="url(#lF)" />
<line x1="607.10" y1="568.00" x2="607.10" y2="711.40" stroke="#000" stroke-width="1.2" />
<line x1="626.40" y1="568.00" x2="626.40" y2="711.40" stroke="#000" stroke-width="1.2" />
<line x1="606.50" y1="568.60" x2="627.00" y2="568.60" stroke="#000" stroke-width="1.2" />
<line x1="578.00" y1="610.00" x2="578.00" y2="631.60" stroke="#000" stroke-width="2.0" />
<line x1="573.60" y1="610.00" x2="582.40" y2="610.00" stroke="#000" stroke-width="2.0" />
<line x1="573.60" y1="631.60" x2="582.40" y2="631.60" stroke="#000" stroke-width="2.0" />
<line x1="597.40" y1="608.40" x2="597.40" y2="632.40" stroke="#000" stroke-width="2.0" />
<line x1="593.00" y1="608.40" x2="601.80" y2="608.40" stroke="#000" stroke-width="2.0" />
<line x1="593.00" y1="632.40" x2="601.80" y2="632.40" stroke="#000" stroke-width="2.0" />
<line x1="616.40" y1="545.00" x2="616.40" y2="569.00" stroke="#000" stroke-width="2.0" />
<line x1="612.00" y1="545.00" x2="620.80" y2="545.00" stroke="#000" stroke-width="2.0" />
<line x1="450.30" y1="711.40" x2="647.70" y2="711.40" stroke="#000" stroke-width="2.2" />
<line x1="549.60" y1="711.40" x2="549.60" y2="706.80" stroke="#000" stroke-width="2.2" />
<line x1="646.60" y1="711.40" x2="646.60" y2="706.80" stroke="#000" stroke-width="2.2" />
<text transform="translate(416.80,620.60) rotate(-90)" font-family='"Liberation Serif", serif' font-size="15.2" font-weight="bold" text-anchor="middle">C-casp3/Pro-casp3</text>
<text transform="translate(608.60,531.99) scale(1.005,1)" font-family='"Liberation Sans", sans-serif' font-size="18.11" font-weight="bold">*</text>
<text transform="translate(616.62,527.30) scale(1.034,1)" font-family='"Liberation Sans", sans-serif' font-size="13.77" font-weight="bold">#</text>
<rect x="462.90" y="540.40" width="7.40" height="7.20" fill="#fff" stroke="#000" stroke-width="1.8" />
<rect x="462.90" y="563.50" width="7.40" height="7.00" fill="#bbb" stroke="#000" stroke-width="1.8" />
<rect x="462.00" y="585.80" width="9.20" height="8.80" fill="#000" />
<text x="479.60" y="549.70" font-family='"Liberation Serif", serif' font-size="15" font-weight="normal" text-anchor="start" >SW480</text>
<text x="479.60" y="571.20" font-family='"Liberation Serif", serif' font-size="15" font-weight="normal" text-anchor="start" >miR-NC</text>
<text x="479.60" y="594.00" font-family='"Liberation Serif", serif' font-size="15" font-weight="normal" text-anchor="start" >miR-124</text>
<text x="484.80" y="735.80" font-family='"Liberation Serif", serif' font-size="15" font-weight="bold" text-anchor="start" >DMSO</text>
<text x="576.80" y="735.80" font-family='"Liberation Serif", serif' font-size="15" font-weight="bold" text-anchor="start" >L-OHP</text>
<line x1="455.00" y1="744.50" x2="540.60" y2="744.50" stroke="#000" stroke-width="1.7" />
<line x1="560.00" y1="744.50" x2="644.40" y2="744.50" stroke="#000" stroke-width="1.7" />
<text transform="translate(471.00,763.00) rotate(45)" font-family='"Liberation Serif", serif' font-size="15">SW480</text>
<text transform="translate(498.00,759.00) rotate(45)" font-family='"Liberation Serif", serif' font-size="15">miR-NC</text>
<text transform="translate(528.50,758.50) rotate(45)" font-family='"Liberation Serif", serif' font-size="15">miR-124</text>
<text transform="translate(571.50,763.00) rotate(45)" font-family='"Liberation Serif", serif' font-size="15">SW480</text>
<text transform="translate(598.00,759.00) rotate(45)" font-family='"Liberation Serif", serif' font-size="15">miR-NC</text>
<text transform="translate(629.00,758.50) rotate(45)" font-family='"Liberation Serif", serif' font-size="15">miR-124</text>
<text x="422.40" y="812.60" font-family='"Liberation Serif", serif' font-size="15" font-weight="normal" text-anchor="start" >Pro-casp3</text>
<text x="422.40" y="840.00" font-family='"Liberation Serif", serif' font-size="15" font-weight="normal" text-anchor="start" >C-casp3</text>
<text x="424.80" y="865.00" font-family='"Liberation Serif", serif' font-size="15" font-weight="normal" text-anchor="start" >β-actin</text>
<text x="700.60" y="813.80" font-family='"Liberation Serif", serif' font-size="15" font-weight="normal" text-anchor="start" >-40kd</text>
<text x="700.60" y="840.00" font-family='"Liberation Serif", serif' font-size="15" font-weight="normal" text-anchor="start" >-17kd</text>
<text x="700.60" y="866.00" font-family='"Liberation Serif", serif' font-size="15" font-weight="normal" text-anchor="start" >-45kd</text>
<clipPath id="cF1"><rect x="487.7" y="799.5" width="207.3" height="16.799999999999955"/></clipPath>
<rect x="487.70" y="799.50" width="207.30" height="16.80" fill="url(#gF1)" />
<rect x="487.70" y="799.50" width="207.30" height="16.80" fill="#000" filter="url(#nz)" opacity="0.35"/>
<g clip-path="url(#cF1)">
<rect x="496.00" y="806.30" width="20.80" height="5.00" rx="2.50" fill="#000" opacity="0.95" filter="url(#b1)"/>
<rect x="528.50" y="806.30" width="21.50" height="5.00" rx="2.50" fill="#000" opacity="0.9" filter="url(#b1)"/>
<rect x="562.80" y="806.05" width="23.50" height="5.50" rx="2.75" fill="#000" opacity="0.95" filter="url(#b1)"/>
<rect x="598.00" y="804.70" width="20.00" height="4.00" rx="2.00" fill="#000" opacity="0.95" filter="url(#b1)"/>
<rect x="631.50" y="804.00" width="19.90" height="4.00" rx="2.00" fill="#000" opacity="0.95" filter="url(#b1)"/>
<rect x="665.80" y="803.80" width="19.90" height="4.00" rx="2.00" fill="#000" opacity="0.95" filter="url(#b1)"/>
</g>
<rect x="488.70" y="800.50" width="205.30" height="14.80" fill="none" stroke="#000" stroke-width="2.0" />
<clipPath id="cF2"><rect x="486.4" y="822.7" width="207.10000000000002" height="21.5"/></clipPath>
<rect x="486.40" y="822.70" width="207.10" height="21.50" fill="#dedede" />
<g clip-path="url(#cF2)">
<rect x="492.40" y="829.50" width="20.90" height="8.00" rx="4.00" fill="#333" opacity="0.9" filter="url(#b2)"/>
<rect x="526.70" y="830.50" width="20.90" height="7.00" rx="3.50" fill="#555" opacity="0.85" filter="url(#b2)"/>
<rect x="561.00" y="830.50" width="18.30" height="7.00" rx="3.50" fill="#222" opacity="0.9" filter="url(#b2)"/>
<rect x="594.50" y="830.50" width="18.20" height="7.00" rx="3.50" fill="#111" opacity="0.95" filter="url(#b2)"/>
<rect x="627.00" y="830.50" width="21.80" height="7.00" rx="3.50" fill="#111" opacity="0.95" filter="url(#b2)"/>
<rect x="661.40" y="829.00" width="20.80" height="9.00" rx="4.50" fill="#000" opacity="1" filter="url(#b2)"/>
</g>
<rect x="487.40" y="823.70" width="205.10" height="19.50" fill="none" stroke="#000" stroke-width="2.0" />
<clipPath id="cF3"><rect x="486.4" y="849.5" width="207.10000000000002" height="21.700000000000045"/></clipPath>
<rect x="486.40" y="849.50" width="207.10" height="21.70" fill="#e2e2e2" />
<g clip-path="url(#cF3)">
<rect x="492.40" y="857.25" width="24.90" height="4.50" rx="2.25" fill="#111" opacity="0.95" filter="url(#b1)"/>
<rect x="527.00" y="857.25" width="25.00" height="4.50" rx="2.25" fill="#111" opacity="0.95" filter="url(#b1)"/>
<rect x="561.00" y="857.25" width="25.00" height="4.50" rx="2.25" fill="#111" opacity="0.95" filter="url(#b1)"/>
<rect x="596.30" y="858.25" width="22.70" height="4.50" rx="2.25" fill="#111" opacity="0.95" filter="url(#b1)"/>
<rect x="628.80" y="858.25" width="24.40" height="4.50" rx="2.25" fill="#111" opacity="0.95" filter="url(#b1)"/>
<rect x="663.00" y="858.45" width="25.40" height="4.50" rx="2.25" fill="#111" opacity="0.95" filter="url(#b1)"/>
</g>
<rect x="487.40" y="850.50" width="205.10" height="19.70" fill="none" stroke="#000" stroke-width="2.0" />
</svg>
</body></html>
